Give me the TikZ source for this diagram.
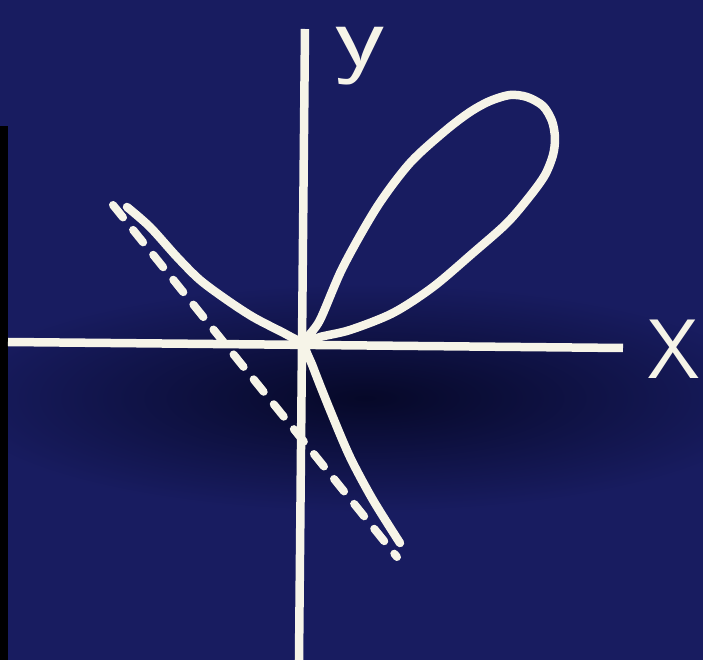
\documentclass[tikz,border=0pt]{standalone}
\usepackage{xcolor}
\usepackage{tikz}
\definecolor{board}{RGB}{24,28,96}
\definecolor{boarddark}{RGB}{6,8,40}
\definecolor{chalk}{RGB}{246,244,232}

\begin{document}
\begin{tikzpicture}[x=0.1mm,y=0.1mm,
    axis/.style={chalk,line width=0.85mm},
    curve/.style={chalk,line width=0.85mm,line cap=round,line join=round},
    asym/.style={chalk,line width=0.8mm,line cap=round,dash pattern=on 1.6mm off 1.6mm},
    lab/.style={chalk,inner sep=0pt,font=\sffamily}]
  % board
  \useasboundingbox (-305,-317) rectangle (398,343);
  \fill[board] (-305,-317) rectangle (398,343);
  \begin{scope}
    \clip (-305,-317) rectangle (398,343);
    \shade[inner color=boarddark,outer color=board] (60,-55) ellipse (420 and 115);
  \end{scope}
  \fill[black] (-305,-317) rectangle (-297,217);
  % axes
  \draw[axis] (-297,1) -- (318,-5);
  \draw[axis] (0,314) -- (-6,-317);
  \node[lab,font=\sffamily\fontsize{26}{26}\selectfont,xscale=1.3] (ylab) at (55,287) {y};
  \node[lab,font=\sffamily\fontsize{24}{24}\selectfont] (xlab) at (369,-6) {X};
  % asymptote
  \draw[asym] (-192,138) -- (92,-214);
  % folium
  \draw[curve] plot[smooth] coordinates {
    (-178,136) (-155,116) (-128,86) (-105,63) (-78,43) (-52,26) (-25,12) (0,0)
    (15,6) (45,13) (88,30) (128,56) (168,90) (202,120) (225,147)
    (240,168) (248,188) (250,205) (247,222) (238,237) (222,246) (205,248)
    (185,242) (165,231) (140,212) (105,180) (72,136) (38,76) (15,23) (0,0)
    (8,-24) (25,-67) (45,-114) (68,-157) (95,-200)};
\end{tikzpicture}
\end{document}
